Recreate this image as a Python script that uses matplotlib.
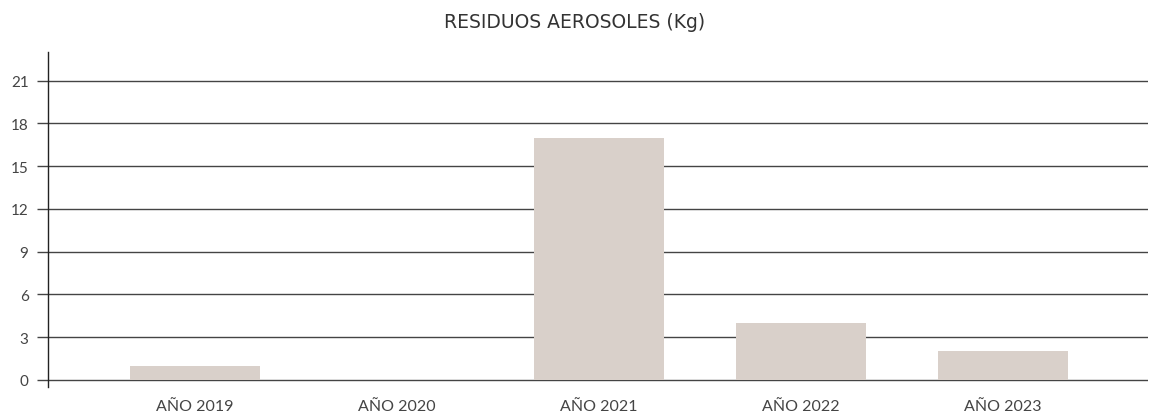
import matplotlib
matplotlib.use("Agg")
import matplotlib.pyplot as plt

categories = ["AÑO 2019", "AÑO 2020", "AÑO 2021", "AÑO 2022", "AÑO 2023"]
values = [1, 0, 17, 4, 2]
yticks = [0, 3, 6, 9, 12, 15, 18, 21]
title = "RESIDUOS AEROSOLES (Kg)"

plt.rcParams['font.family'] = ['Lato', 'DejaVu Sans']

fig = plt.figure(figsize=(11.5, 4.14), dpi=100)
ax = fig.add_axes([48/1150, (414-388)/414, 1100/1150, (388-53)/414])

x = list(range(len(categories)))
ax.bar(x, values, width=0.64, color="#d9d0ca", zorder=2)

ax.set_xlim(-0.728, 4.718)
ax.set_ylim(-0.5, 23)
ax.set_yticks(yticks)
ax.set_yticklabels([str(v) for v in yticks], fontsize=11, color="#444444")
for v in yticks:
    ax.axhline(v, color="#444444", linewidth=1.0, zorder=1)

ax.set_xticks(x)
ax.set_xticklabels(categories, fontsize=11.5, color="#444444")
ax.tick_params(axis='x', length=0, pad=9)
ax.tick_params(axis='y', length=8, width=1.0, color="#444444", pad=6)

for s in ["top", "right", "bottom"]:
    ax.spines[s].set_visible(False)
ax.spines["left"].set_color("#222222")
ax.spines["left"].set_linewidth(1.0)

fig.text(0.5, 1 - 22/414, title, ha="center", va="center", fontsize=13.5,
         color="#333333", family=['DejaVu Sans'])

fig.savefig("out.png", dpi=100)
